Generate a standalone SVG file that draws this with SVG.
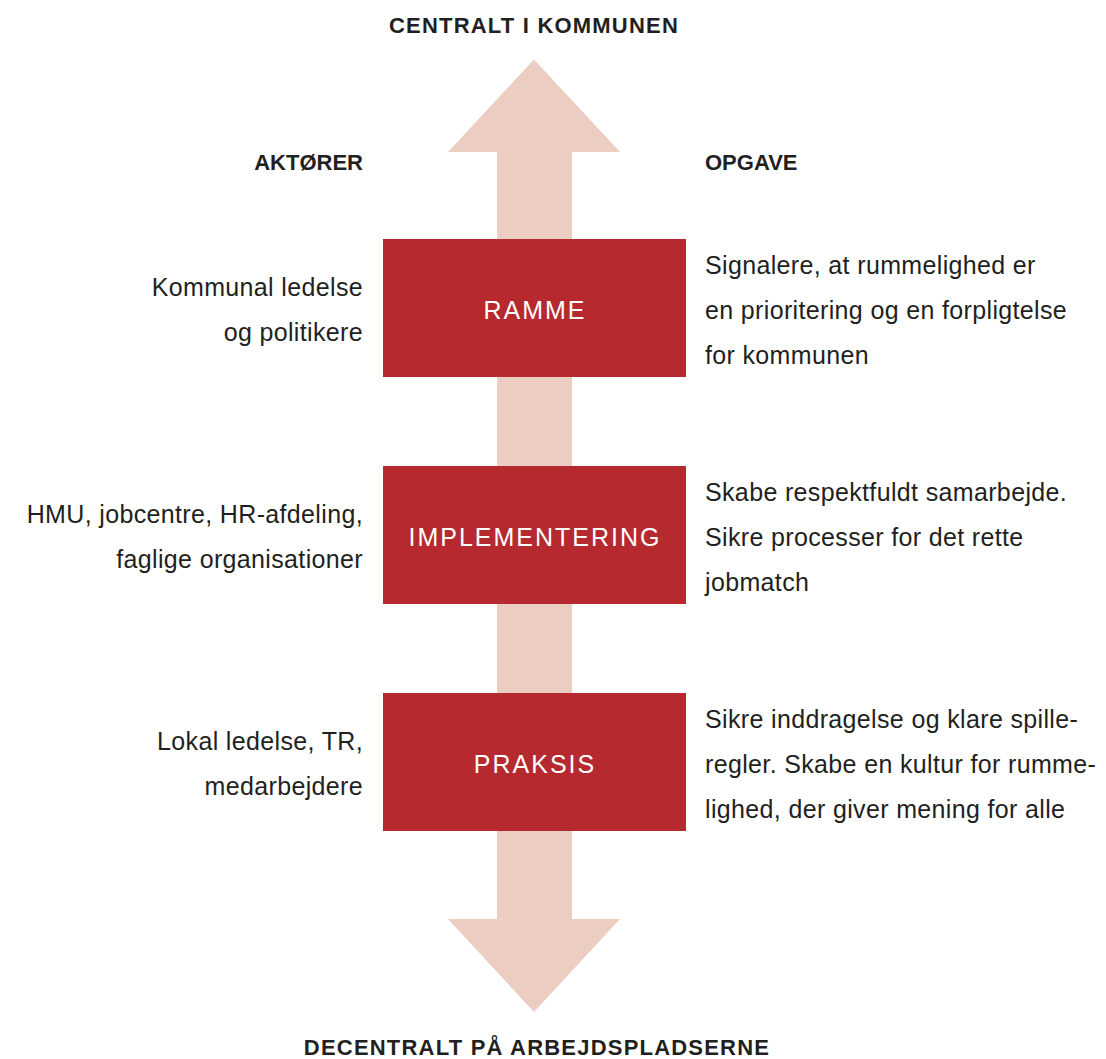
<svg xmlns="http://www.w3.org/2000/svg" width="1106" height="1059" viewBox="0 0 1106 1059">
<style>
.arrow{fill:#EBCDC2}
.box{fill:#B5292F}
.lbl{font-family:"Liberation Sans",Arial,sans-serif;font-size:25px;fill:#ffffff;text-anchor:middle;letter-spacing:2px}
.hd{font-family:"Liberation Sans",Arial,sans-serif;font-size:22px;font-weight:bold;fill:#231F20}
.wide{letter-spacing:1.2px}
.txt{font-family:"Liberation Sans",Arial,sans-serif;font-size:25px;fill:#231F20;letter-spacing:0.35px}
.l{text-anchor:end}
</style>
<rect width="1106" height="1059" fill="#ffffff"/>
<g id="connectors">
<polygon class="arrow" points="534,59.5 620,152 572,152 572,919 620,919 534,1012 448,919 497,919 497,152 448,152"/>
</g>
<g id="headers">
<text class="hd wide" x="534" y="33" text-anchor="middle">CENTRALT I KOMMUNEN</text>
<text class="hd" x="363" y="170" text-anchor="end">AKTØRER</text>
<text class="hd" x="705" y="170">OPGAVE</text>
<text class="hd wide" x="537" y="1055" text-anchor="middle">DECENTRALT PÅ ARBEJDSPLADSERNE</text>
</g>
<g id="ramme">
<rect class="box" x="383" y="239" width="303" height="138"/>
<text class="lbl" x="535" y="319">RAMME</text>
<text class="txt l" x="363" y="296">Kommunal ledelse</text>
<text class="txt l" x="363" y="341">og politikere</text>
<text class="txt" x="705" y="274">Signalere, at rummelighed er</text>
<text class="txt" x="705" y="319">en prioritering og en forpligtelse</text>
<text class="txt" x="705" y="364">for kommunen</text>
</g>
<g id="implementering">
<rect class="box" x="383" y="466" width="303" height="138"/>
<text class="lbl" x="535" y="546">IMPLEMENTERING</text>
<text class="txt l" x="363" y="523">HMU, jobcentre, HR-afdeling,</text>
<text class="txt l" x="363" y="568">faglige organisationer</text>
<text class="txt" x="705" y="501">Skabe respektfuldt samarbejde.</text>
<text class="txt" x="705" y="546">Sikre processer for det rette</text>
<text class="txt" x="705" y="591">jobmatch</text>
</g>
<g id="praksis">
<rect class="box" x="383" y="693" width="303" height="138"/>
<text class="lbl" x="535" y="773">PRAKSIS</text>
<text class="txt l" x="363" y="750">Lokal ledelse, TR,</text>
<text class="txt l" x="363" y="795">medarbejdere</text>
<text class="txt" x="705" y="728">Sikre inddragelse og klare spille-</text>
<text class="txt" x="705" y="773">regler. Skabe en kultur for rumme-</text>
<text class="txt" x="705" y="818">lighed, der giver mening for alle</text>
</g>
</svg>
